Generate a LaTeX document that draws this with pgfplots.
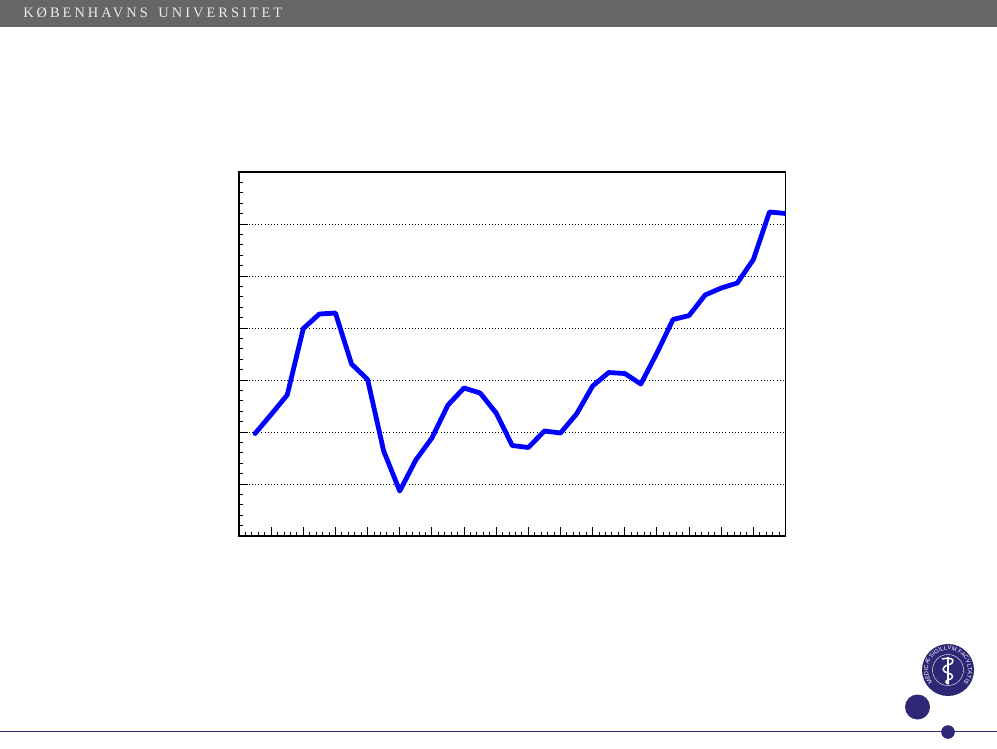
\documentclass[border=0pt]{standalone}
\usepackage{pgfplots}
\pgfplotsset{compat=1.18}
\usepackage{fontspec}
\setmainfont{Liberation Serif}
\newfontfamily\headfont[LetterSpace=21]{Liberation Serif}
\newfontfamily\sealfont{Liberation Sans}
\usetikzlibrary{decorations.text}
\definecolor{navy}{HTML}{2E2775}
\definecolor{band}{HTML}{666666}
\begin{document}
\begin{tikzpicture}
\begin{scope}[x=0.75pt,y=-0.75pt]
\useasboundingbox (0,0) rectangle (997,749);
\fill[white] (0,0) rectangle (997,749);
\fill[band] (0,0) rectangle (997,27.5);
\node[anchor=base west,inner sep=0pt,text=white!92!black,font=\headfont\fontsize{10.8pt}{12pt}\selectfont] at (23,18) {KØBENHAVNS\hspace{8pt}UNIVERSITET};
\draw[navy,line width=0.75pt] (0,731.5) -- (997,731.5);
\fill[navy] (917.5,707) circle[radius=12.5];
\fill[navy] (948,732) circle[radius=6.8];
\fill[navy] (948,670) circle[radius=26];
\draw[white,line width=0.3pt] (948,670) circle[radius=15.5];
\path[postaction={decorate},decoration={text along path,text align=center,
  text={|\sealfont\fontsize{4.4pt}{5pt}\selectfont\color{white}|MEDICÆ SIGILLVM FACVLTATIS}}]
  (941.16,688.79) arc[start angle=110,end angle=430,radius=20];
\draw[white,line width=1.1pt] (948,657) -- (948,684);
\draw[white,line width=1.1pt] (942,659) .. controls (955,656) and (956,663) .. (948,665) .. controls (941,667) and (942,672) .. (948,673) .. controls (954,674) and (954,679) .. (948,680) .. controls (945,681) and (945,683) .. (949,684);
\end{scope}
\begin{axis}[
  at={(179.25pt,-402pt)},anchor=south west,
  scale only axis,width=409.9pt,height=273pt,
  xmin=0,xmax=17,ymin=0,ymax=7,
  xtick={0,...,17},ytick={0,...,7},
  minor x tick num=4,minor y tick num=4,
  xticklabels={},yticklabels={},
  tick align=inside,
  tick pos=left,
  major tick length=6.5pt,minor tick length=3.2pt,
  every tick/.style={black,line width=0.7pt},
  axis line style={black,line width=0.85pt},
  ymajorgrids,
  major grid style={black,dotted,line width=0.7pt},
]
\addplot[color={rgb,255:red,0;green,0;blue,255},line width=3.6pt,line join=round,line cap=round] coordinates {
(0.5,1.971)(1,2.337)(1.5,2.712)(2,3.990)(2.5,4.269)(3,4.288)(3.5,3.308)(4,3.010)
(4.5,1.635)(5,0.865)(5.5,1.462)(6,1.885)(6.5,2.519)(7,2.846)(7.5,2.750)(8,2.365)
(8.5,1.740)(9,1.702)(9.5,2.019)(10,1.981)(10.5,2.346)(11,2.885)(11.5,3.144)(12,3.125)
(12.5,2.923)(13,3.519)(13.5,4.163)(14,4.240)(14.5,4.635)(15,4.769)(15.5,4.865)(16,5.317)
(16.5,6.231)(17,6.202)};
\end{axis}
\end{tikzpicture}
\end{document}
